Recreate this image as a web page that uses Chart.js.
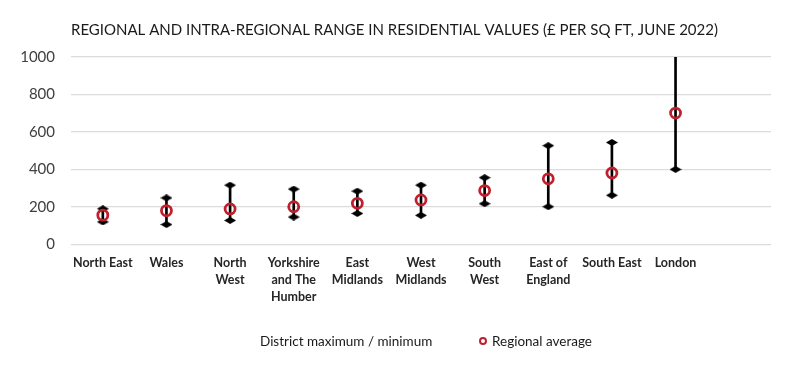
<!DOCTYPE html>
<html>
<head>
<meta charset="utf-8">
<script src="https://cdn.jsdelivr.net/npm/chart.js@4/dist/chart.umd.min.js"></script>
<style>
  html, body { margin: 0; padding: 0; background: #fff; }
  #wrap { position: relative; width: 800px; height: 369px; font-family: Lato, "Open Sans", sans-serif; }
  .lg { position: absolute; top: 332px; font-size: 13.5px; color: #1a1a1a; line-height: 18px; white-space: nowrap; }
  .dot { position: absolute; top: 337px; left: 479px; width: 4px; height: 4px; border: 2.5px solid #c0202e; border-radius: 50%; }
</style>
</head>
<body>
<div id="wrap">
  <canvas id="chart" width="800" height="369"></canvas>
  <div class="lg" style="left:260px">District maximum / minimum</div>
  <div class="dot"></div>
  <div class="lg" style="left:492px">Regional average</div>
</div>
<script>
const regions = [
  'North East', 'Wales', ['North', 'West'], ['Yorkshire', 'and The', 'Humber'],
  ['East', 'Midlands'], ['West', 'Midlands'], ['South', 'West'], ['East of', 'England'],
  'South East', 'London', ''
];
const districtMax = [190, 248, 316, 295, 284, 316, 356, 527, 544, 1500, null];
const districtMin = [120, 106, 128, 146, 165, 155, 217, 201, 262, 400, null];
const regionalAvg = [156, 180, 189, 201, 219, 237, 287, 350, 381, 701, null];
const yTicks = [0, 200, 400, 600, 800, 1000];

const FONT = 'Lato, "Open Sans", sans-serif';
const RED = '#c0202e';

// flat diamond marker
function diamond() {
  const c = document.createElement('canvas');
  c.width = 12; c.height = 7;
  const g = c.getContext('2d');
  g.fillStyle = '#000';
  g.beginPath();
  g.moveTo(0, 3.5); g.lineTo(6, 0); g.lineTo(12, 3.5); g.lineTo(6, 7);
  g.closePath(); g.fill();
  return c;
}
const dia = diamond();

const ranges = districtMax.map((v, i) => v == null ? null : [districtMin[i], v]);

new Chart(document.getElementById('chart'), {
  type: 'bar',
  data: {
    labels: regions,
    datasets: [
      {
        label: 'District maximum / minimum',
        data: ranges,
        backgroundColor: '#000',
        barThickness: 2,
        order: 3,
      },
      {
        type: 'line',
        label: 'max',
        data: districtMax,
        showLine: false,
        pointStyle: dia,
        pointRadius: 6,
        order: 2,
      },
      {
        type: 'line',
        label: 'min',
        data: districtMin,
        showLine: false,
        pointStyle: dia,
        pointRadius: 6,
        order: 2,
      },
      {
        type: 'line',
        label: 'Regional average',
        data: regionalAvg,
        showLine: false,
        pointStyle: 'circle',
        pointRadius: 5,
        pointBorderWidth: 2.8,
        pointBorderColor: RED,
        pointBackgroundColor: 'rgba(0,0,0,0)',
        order: 1,
      },
    ],
  },
  options: {
    responsive: false,
    animation: false,
    layout: { padding: { left: 14, right: 29, top: 8, bottom: 62 } },
    plugins: {
      tooltip: { enabled: false },
      legend: { display: false },
      title: {
        display: true,
        fullSize: false,
        text: 'REGIONAL AND INTRA-REGIONAL RANGE IN RESIDENTIAL VALUES (£ PER SQ FT, JUNE 2022)',
        align: 'start',
        color: '#1a1a1a',
        font: { family: FONT, size: 15, weight: 'normal' },
        padding: { top: 13, bottom: 18 },
      },
    },
    scales: {
      x: {
        grid: { display: false },
        border: { display: false },
        ticks: {
          color: '#262626',
          font: { family: FONT, size: 12.5, weight: 'bold', lineHeight: 1.35 },
          maxRotation: 0,
          autoSkip: false,
          padding: 2,
        },
      },
      y: {
        min: 0,
        max: 1000,
        afterBuildTicks: s => { s.ticks = yTicks.map(v => ({ value: v })); },
        afterFit: s => { s.width = 57; },
        grid: { color: '#dcdcdc', lineWidth: 1.2, drawTicks: false },
        border: { display: false },
        ticks: {
          color: '#404040',
          font: { family: FONT, size: 15 },
          padding: 16,
          callback: v => String(v),
        },
      },
    },
  },
});
</script>
</body>
</html>
